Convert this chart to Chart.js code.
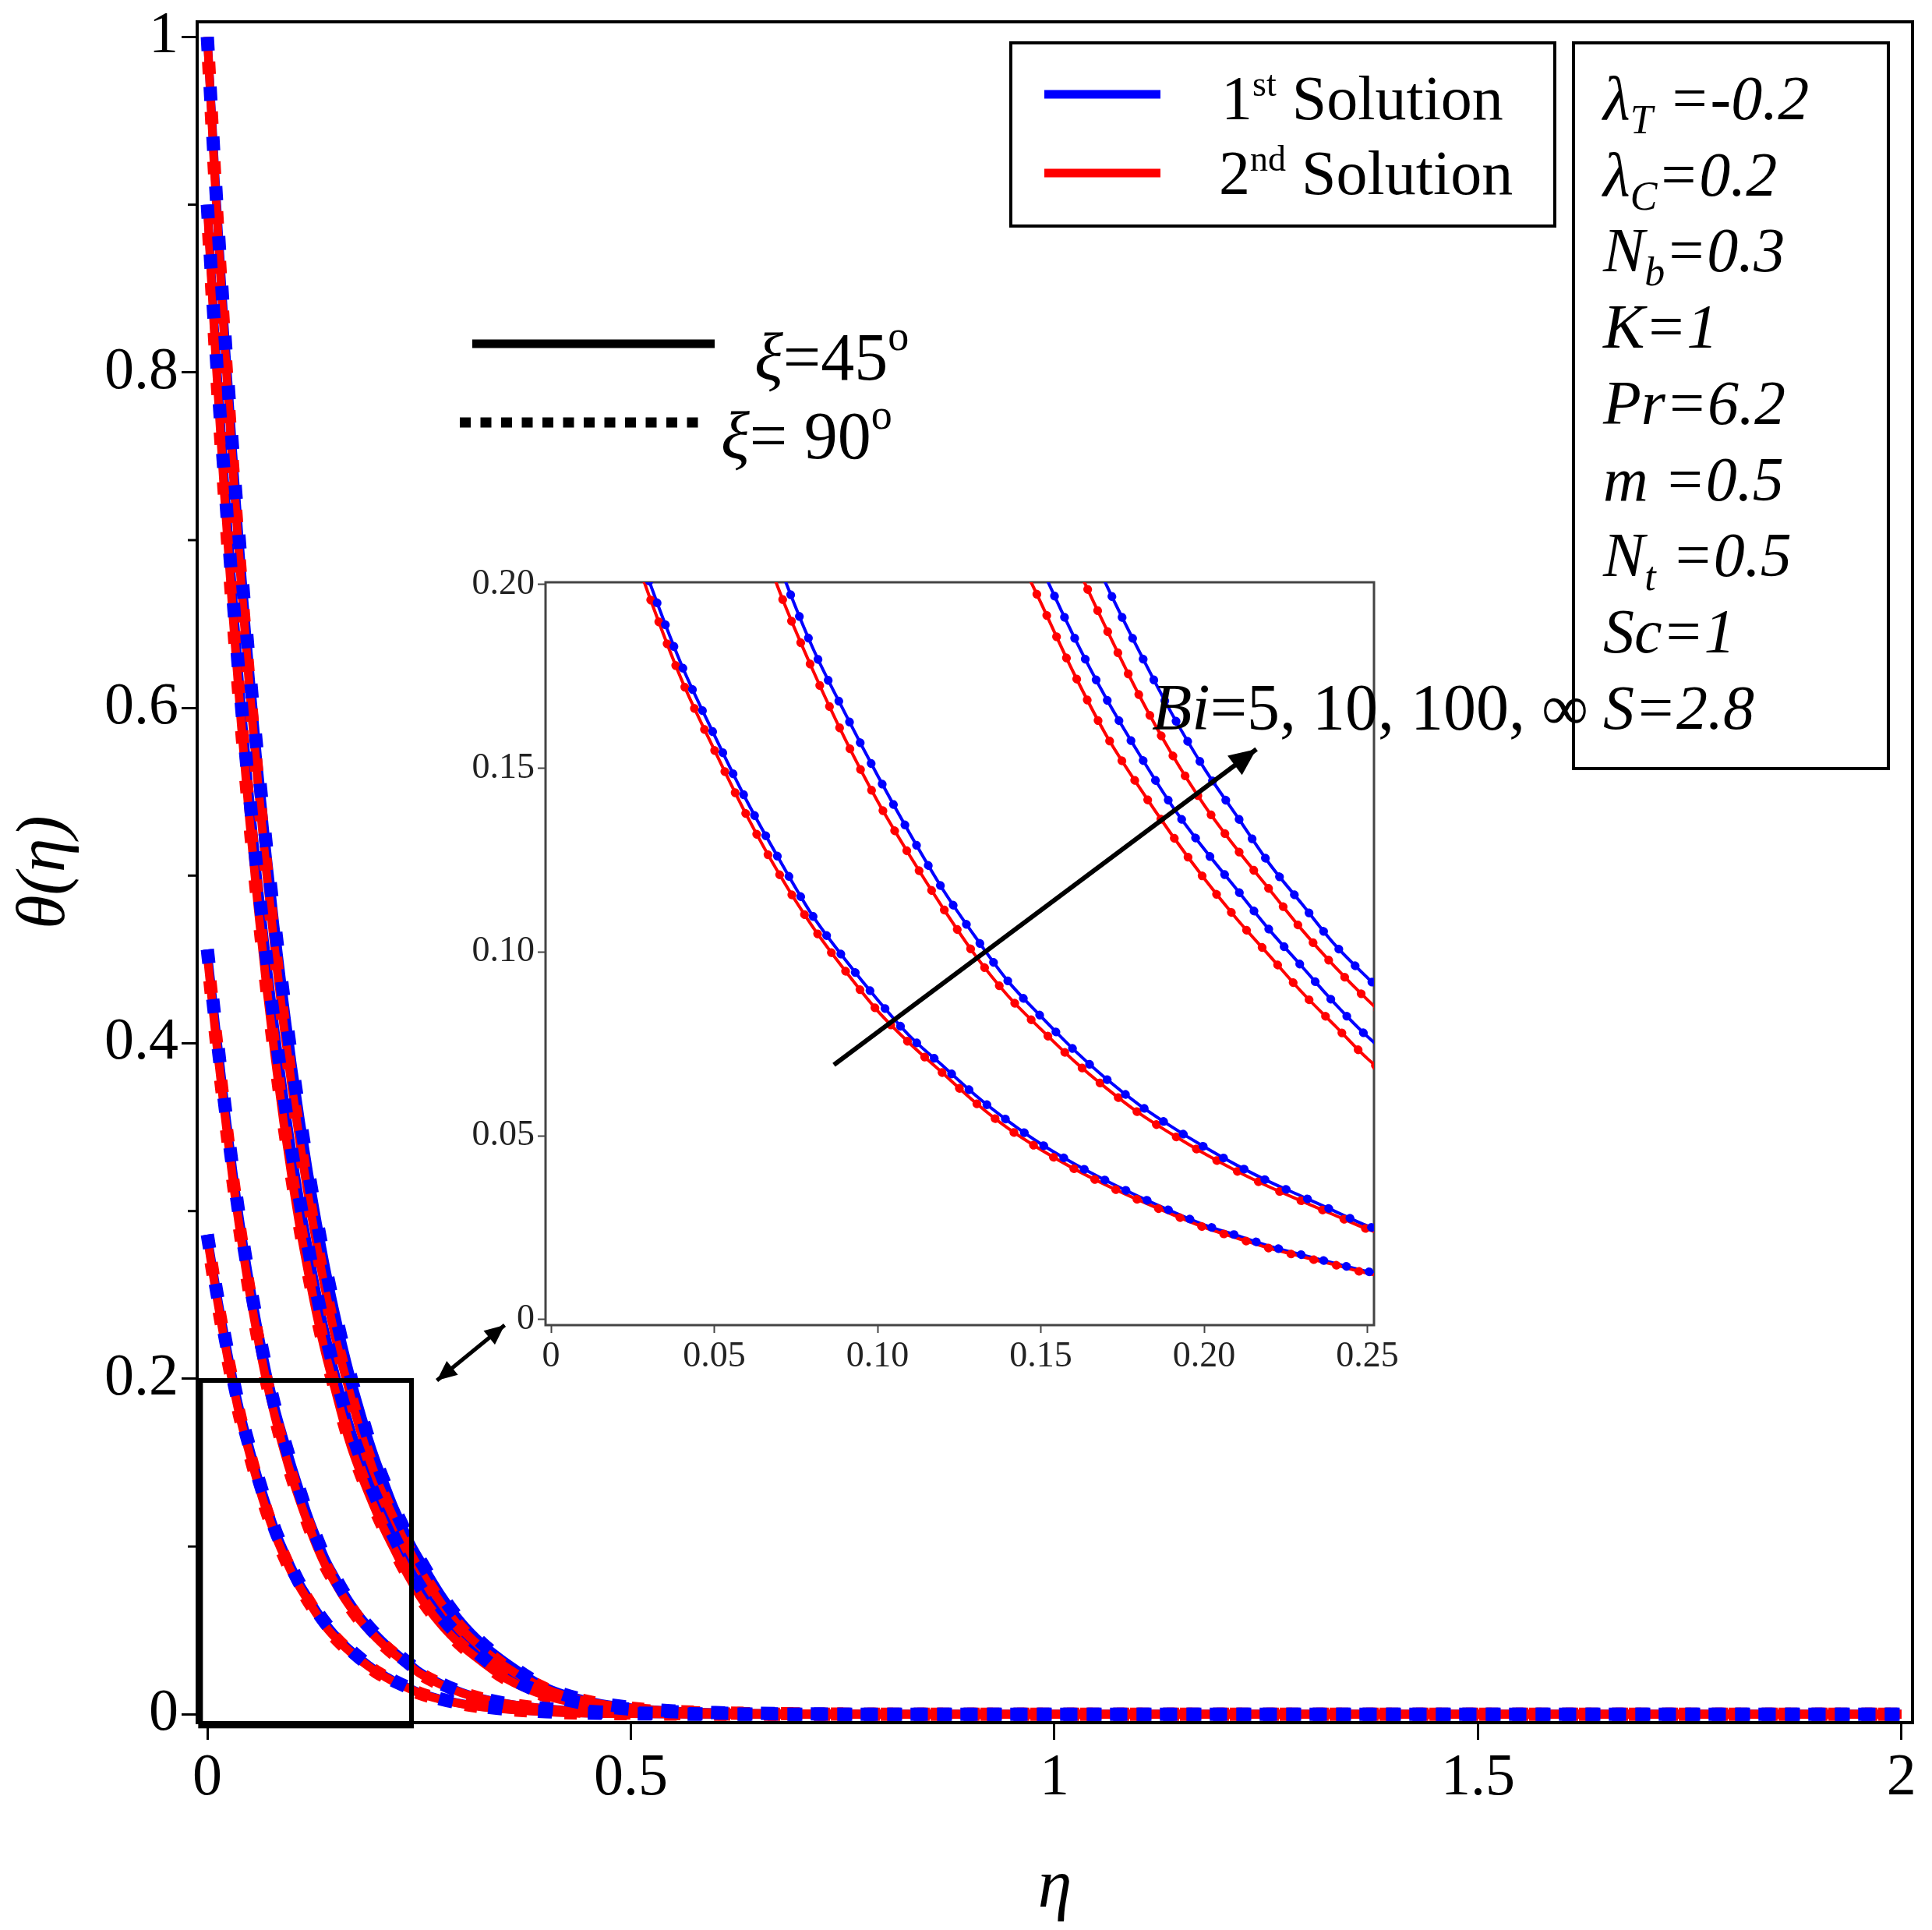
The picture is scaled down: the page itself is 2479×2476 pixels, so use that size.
<!DOCTYPE html>
<html>
<head>
<meta charset="utf-8">
<script src="https://cdn.jsdelivr.net/npm/chart.js@4.4.1/dist/chart.umd.min.js"></script>
<style>
  html, body { margin: 0; padding: 0; background: #fff; }
  #wrap { position: relative; width: 2479px; height: 2476px; }
  #wrap canvas { position: absolute; left: 0; top: 0; }
</style>
</head>
<body>
<div id="wrap">
  <canvas id="main" width="2479" height="2476"></canvas>
  <canvas id="inset" width="2479" height="2476"></canvas>
</div>
<script>
// ---- data ----
const eta = [0, 0.01, 0.02, 0.03, 0.04, 0.05, 0.06, 0.07, 0.08, 0.09, 0.10, 0.11, 0.12, 0.13, 0.14, 0.15,
  0.16, 0.17, 0.18, 0.19, 0.20, 0.21, 0.22, 0.23, 0.24, 0.25, 0.275, 0.30, 0.325, 0.35, 0.40, 0.45, 0.50,
  0.55, 0.60, 0.70, 0.80, 1.0, 1.2, 1.4, 1.6, 1.8, 2.0];

// Bi = 5
const bi5First = [0.286, 0.255, 0.227, 0.201, 0.178, 0.159, 0.141, 0.125, 0.110, 0.098, 0.087, 0.077, 0.069, 0.061, 0.054, 0.0478,
  0.0425, 0.0378, 0.0335, 0.0295, 0.0258, 0.0229, 0.0200, 0.0176, 0.0153, 0.0131, 0.0092, 0.0064, 0.0045, 0.0032, 0.0015, 0.0007, 0.0003,
  0.0001, 0, 0, 0, 0, 0, 0, 0, 0, 0];
const bi5Second = [0.284, 0.252, 0.223, 0.197, 0.174, 0.155, 0.137, 0.121, 0.107, 0.095, 0.084, 0.075, 0.067, 0.059, 0.052, 0.0462,
  0.0411, 0.0366, 0.0325, 0.0287, 0.0251, 0.0222, 0.0194, 0.0171, 0.0149, 0.0126, 0.0089, 0.0062, 0.0043, 0.0031, 0.0014, 0.0006, 0.0003,
  0.0001, 0, 0, 0, 0, 0, 0, 0, 0, 0];
// Bi = 10
const bi10First = [0.456, 0.410, 0.366, 0.325, 0.289, 0.258, 0.230, 0.205, 0.183, 0.165, 0.148, 0.132, 0.117, 0.104, 0.092, 0.0825,
  0.0735, 0.0655, 0.0585, 0.0525, 0.047, 0.0420, 0.0375, 0.0335, 0.0295, 0.0255, 0.0185, 0.0132, 0.0094, 0.0067, 0.0034, 0.0017, 0.0008,
  0.0004, 0.0002, 0, 0, 0, 0, 0, 0, 0, 0];
const bi10Second = [0.452, 0.404, 0.360, 0.319, 0.283, 0.251, 0.223, 0.198, 0.177, 0.158, 0.141, 0.126, 0.112, 0.099, 0.088, 0.0790,
  0.0705, 0.0630, 0.0562, 0.0505, 0.0452, 0.0404, 0.0361, 0.0322, 0.0284, 0.0246, 0.0179, 0.0128, 0.0091, 0.0065, 0.0033, 0.0016, 0.0008,
  0.0004, 0.0002, 0, 0, 0, 0, 0, 0, 0, 0];
// Bi = 100
const bi100First = [0.900, 0.814, 0.738, 0.668, 0.603, 0.547, 0.496, 0.450, 0.408, 0.370, 0.335, 0.304, 0.276, 0.249, 0.226, 0.205,
  0.186, 0.169, 0.154, 0.140, 0.128, 0.117, 0.106, 0.096, 0.086, 0.077, 0.059, 0.045, 0.034, 0.024, 0.012, 0.006, 0.003,
  0.0015, 0.0007, 0.0002, 0, 0, 0, 0, 0, 0, 0];
const bi100Second = [0.898, 0.808, 0.728, 0.656, 0.590, 0.532, 0.480, 0.433, 0.391, 0.353, 0.319, 0.288, 0.261, 0.236, 0.214, 0.195,
  0.176, 0.159, 0.145, 0.132, 0.120, 0.109, 0.099, 0.089, 0.080, 0.071, 0.054, 0.041, 0.031, 0.022, 0.011, 0.0055, 0.0027,
  0.0013, 0.0006, 0.0002, 0, 0, 0, 0, 0, 0, 0];
// Bi = infinity
const biInfFirst = [1.000, 0.910, 0.828, 0.753, 0.685, 0.623, 0.567, 0.516, 0.470, 0.428, 0.389, 0.354, 0.322, 0.293, 0.266, 0.242,
  0.220, 0.200, 0.182, 0.165, 0.150, 0.137, 0.124, 0.113, 0.102, 0.093, 0.072, 0.055, 0.042, 0.032, 0.016, 0.008, 0.004,
  0.002, 0.001, 0.0003, 0, 0, 0, 0, 0, 0, 0];
const biInfSecond = [1.000, 0.905, 0.820, 0.743, 0.673, 0.610, 0.553, 0.501, 0.454, 0.411, 0.373, 0.338, 0.306, 0.277, 0.251, 0.227,
  0.207, 0.188, 0.170, 0.154, 0.140, 0.128, 0.117, 0.106, 0.096, 0.087, 0.067, 0.051, 0.039, 0.029, 0.015, 0.0075, 0.0037,
  0.0018, 0.0009, 0.0003, 0, 0, 0, 0, 0, 0, 0];

// the xi = 90 deg curves sit on top of the xi = 45 deg ones in the figure, so they reuse the same values
const curves = [
  { first: biInfFirst, second: biInfSecond },
  { first: bi100First, second: bi100Second },
  { first: bi10First, second: bi10Second },
  { first: bi5First, second: bi5Second }
];

const mainXTicks = [0, 0.5, 1, 1.5, 2];
const mainXLabels = ['0', '0.5', '1', '1.5', '2'];
const mainYTicks = [0, 0.2, 0.4, 0.6, 0.8, 1];
const mainYLabels = ['0', '0.2', '0.4', '0.6', '0.8', '1'];
const mainYMinor = [0.1, 0.3, 0.5, 0.7, 0.9];
const insetXTicks = [0, 0.05, 0.10, 0.15, 0.20, 0.25];
const insetXLabels = ['0', '0.05', '0.10', '0.15', '0.20', '0.25'];
const insetYTicks = [0, 0.05, 0.10, 0.15, 0.20];
const insetYLabels = ['0', '0.05', '0.10', '0.15', '0.20'];

const paramLines = [
  [['λ', 'i'], ['T', 's'], [' =-0.2', 'i']],
  [['λ', 'i'], ['C', 's'], ['=0.2', 'i']],
  [['N', 'i'], ['b', 's'], ['=0.3', 'i']],
  [['K=1', 'i']],
  [['Pr=6.2', 'i']],
  [['m =0.5', 'i']],
  [['N', 'i'], ['t', 's'], [' =0.5', 'i']],
  [['Sc=1', 'i']],
  [['S=2.8', 'i']]
];

// ---- style ----
const BLUE = '#0000ff';
const RED = '#ff0000';
const serif = "'Liberation Serif', 'Times New Roman', serif";

const mainStyle = { blueW: 11, redW: 11, dotW: 17, cap: 'butt', blueDash: [18, 46], redDash: [16, 48], redOffset: 32 };
const insetStyle = { blueW: 4, redW: 4, dotW: 11, cap: 'round', blueDash: [0.5, 29.5], redDash: [0.5, 29.5], redOffset: 15 };

function buildSets(st) {
  const sets = [];
  curves.forEach(c => {
    const p1 = eta.map((x, i) => ({ x: x, y: c.first[i] }));
    const p2 = eta.map((x, i) => ({ x: x, y: c.second[i] }));
    const base = { pointRadius: 0, fill: false, cubicInterpolationMode: 'monotone' };
    sets.push({ ...base, data: p1, borderColor: BLUE, borderWidth: st.blueW, order: 4 });
    sets.push({ ...base, data: p2, borderColor: RED, borderWidth: st.redW, order: 3 });
    sets.push({ ...base, data: p2, borderColor: RED, borderWidth: st.dotW, borderDash: st.redDash,
      borderDashOffset: st.redOffset, borderCapStyle: st.cap, order: 2 });
    sets.push({ ...base, data: p1, borderColor: BLUE, borderWidth: st.dotW, borderDash: st.blueDash,
      borderCapStyle: st.cap, order: 1 });
  });
  return sets;
}

// ---- main chart ----
const mainFrame = {
  id: 'mainFrame',
  beforeDraw(chart) {
    const ctx = chart.ctx;
    ctx.save();
    ctx.fillStyle = '#fff';
    ctx.fillRect(0, 0, chart.width, chart.height);
    ctx.restore();
  },
  beforeDatasetsDraw(chart) {
    const { ctx, chartArea: a } = chart;
    const ys = chart.scales.y;
    ctx.save();
    ctx.strokeStyle = '#000';
    ctx.lineWidth = 4;
    ctx.strokeRect(a.left, a.top, a.right - a.left, a.bottom - a.top);
    ctx.lineWidth = 3;
    mainYMinor.forEach(v => {
      const y = ys.getPixelForValue(v);
      ctx.beginPath();
      ctx.moveTo(a.left - 12, y);
      ctx.lineTo(a.left, y);
      ctx.stroke();
    });
    ctx.restore();
  }
};

const mainChart = new Chart(document.getElementById('main'), {
  type: 'line',
  data: { datasets: buildSets(mainStyle) },
  options: {
    responsive: false, devicePixelRatio: 1, animation: false,
    layout: { padding: { left: 0, top: 28, right: 25, bottom: 0 } },
    plugins: { legend: { display: false }, tooltip: { enabled: false } },
    scales: {
      x: {
        type: 'linear', min: -0.012, max: 2.013,
        afterBuildTicks: s => { s.ticks = mainXTicks.map(v => ({ value: v })); },
        afterFit: s => { s.height = 266; s.paddingLeft = 0; s.paddingRight = 0; },
        ticks: { callback: v => mainXLabels[mainXTicks.indexOf(v)], autoSkip: false, maxRotation: 0,
          font: { family: serif, size: 76, lineHeight: 1 }, color: '#000', padding: 12 },
        grid: { drawOnChartArea: false, tickLength: 22, tickWidth: 3, tickColor: '#000' },
        border: { display: false },
        title: { display: true, text: 'η', color: '#000', padding: { top: 0, bottom: 0 },
          font: { family: serif, size: 88, style: 'italic', lineHeight: 1.2 } }
      },
      y: {
        type: 'linear', min: -0.005, max: 1.009,
        afterBuildTicks: s => { s.ticks = mainYTicks.map(v => ({ value: v })); },
        afterFit: s => { s.width = 253; s.paddingTop = 0; s.paddingBottom = 0; },
        ticks: { callback: v => mainYLabels[mainYTicks.indexOf(v)], autoSkip: false,
          font: { family: serif, size: 76, lineHeight: 1 }, color: '#000', padding: 4 },
        grid: { drawOnChartArea: false, tickLength: 20, tickWidth: 3, tickColor: '#000' },
        border: { display: false },
        title: { display: true, text: 'θ(η)', color: '#000', padding: { top: 6, bottom: 0 },
          font: { family: serif, size: 88, style: 'italic', lineHeight: 1.2 } }
      }
    }
  },
  plugins: [mainFrame]
});

// ---- annotation helpers ----
function arrow(ctx, x0, y0, x1, y1, head, both) {
  const ang = Math.atan2(y1 - y0, x1 - x0);
  ctx.beginPath();
  ctx.moveTo(x0, y0);
  ctx.lineTo(x1, y1);
  ctx.stroke();
  const tip = (x, y, a) => {
    ctx.beginPath();
    ctx.moveTo(x, y);
    ctx.lineTo(x - head * Math.cos(a - 0.42), y - head * Math.sin(a - 0.42));
    ctx.lineTo(x - head * Math.cos(a + 0.42), y - head * Math.sin(a + 0.42));
    ctx.closePath();
    ctx.fill();
  };
  tip(x1, y1, ang);
  if (both) tip(x0, y0, ang + Math.PI);
}

function runs(ctx, x, y, parts) {
  parts.forEach(p => {
    ctx.font = p.font;
    ctx.fillText(p.t, x, y + (p.dy || 0));
    x += ctx.measureText(p.t).width + (p.gap || 0);
  });
  return x;
}

// ---- inset chart (full-page overlay canvas, so it also carries the annotations) ----
const insetDeco = {
  id: 'insetDeco',
  beforeDraw(chart) {
    const { ctx, chartArea: a } = chart;
    ctx.save();
    ctx.fillStyle = '#fff';
    ctx.fillRect(a.left, a.top, a.right - a.left, a.bottom - a.top);
    ctx.restore();
  },
  beforeDatasetsDraw(chart) {
    const { ctx, chartArea: a } = chart;
    ctx.save();
    ctx.strokeStyle = '#444';
    ctx.lineWidth = 3;
    ctx.strokeRect(a.left, a.top, a.right - a.left, a.bottom - a.top);
    ctx.restore();
  },
  afterDraw(chart) {
    const ctx = chart.ctx;
    const mx = mainChart.scales.x, my = mainChart.scales.y;
    const ix = chart.scales.x, iy = chart.scales.y;
    ctx.save();
    ctx.fillStyle = '#000';
    ctx.strokeStyle = '#000';

    // zoom window on the main plot
    ctx.lineWidth = 6;
    const rx0 = mx.getPixelForValue(-0.008), rx1 = mx.getPixelForValue(0.241);
    const ry0 = my.getPixelForValue(0.199), ry1 = my.getPixelForValue(-0.007);
    ctx.strokeRect(rx0, ry0, rx1 - rx0, ry1 - ry0);

    // double arrow between window and inset
    ctx.lineWidth = 5;
    arrow(ctx, mx.getPixelForValue(0.271), my.getPixelForValue(0.199),
      mx.getPixelForValue(0.351), my.getPixelForValue(0.232), 28, true);

    // Bi arrow inside the inset
    ctx.lineWidth = 6;
    arrow(ctx, ix.getPixelForValue(0.0866), iy.getPixelForValue(0.0693),
      ix.getPixelForValue(0.2160), iy.getPixelForValue(0.1552), 38, false);

    ctx.textBaseline = 'alphabetic';
    ctx.textAlign = 'left';
    runs(ctx, 1478, 936, [
      { t: 'Bi', font: 'italic 84px ' + serif },
      { t: '=5, 10, 100, ∞', font: '84px ' + serif }
    ]);

    // xi legend
    ctx.lineWidth = 11;
    ctx.beginPath(); ctx.moveTo(606, 441); ctx.lineTo(917, 441); ctx.stroke();
    ctx.lineWidth = 13;
    ctx.setLineDash([14, 12.5]);
    ctx.beginPath(); ctx.moveTo(590, 542); ctx.lineTo(898, 542); ctx.stroke();
    ctx.setLineDash([]);
    runs(ctx, 968, 487, [
      { t: 'ξ', font: 'italic 86px ' + serif },
      { t: '=45', font: '86px ' + serif },
      { t: 'o', font: '54px ' + serif, dy: -38 }
    ]);
    runs(ctx, 925, 588, [
      { t: 'ξ', font: 'italic 86px ' + serif },
      { t: '= 90', font: '86px ' + serif },
      { t: 'o', font: '54px ' + serif, dy: -38 }
    ]);

    // solution legend
    ctx.lineWidth = 4;
    ctx.strokeRect(1297, 55, 698, 235);
    ctx.lineWidth = 11;
    ctx.strokeStyle = BLUE;
    ctx.beginPath(); ctx.moveTo(1340, 121); ctx.lineTo(1489, 121); ctx.stroke();
    ctx.strokeStyle = RED;
    ctx.beginPath(); ctx.moveTo(1340, 222); ctx.lineTo(1489, 222); ctx.stroke();
    ctx.strokeStyle = '#000';
    runs(ctx, 1567, 153, [
      { t: '1', font: '80px ' + serif },
      { t: 'st', font: '46px ' + serif, dy: -30, gap: 20 },
      { t: 'Solution', font: '80px ' + serif }
    ]);
    runs(ctx, 1564, 249, [
      { t: '2', font: '80px ' + serif },
      { t: 'nd', font: '46px ' + serif, dy: -30, gap: 20 },
      { t: 'Solution', font: '80px ' + serif }
    ]);

    // parameter box
    ctx.lineWidth = 4;
    ctx.strokeRect(2019, 55, 404, 931);
    paramLines.forEach((line, k) => {
      runs(ctx, 2057, 153 + k * 97.7, line.map(([t, kind]) => kind === 's'
        ? { t: t, font: 'italic 52px ' + serif, dy: 18 }
        : { t: t, font: 'italic 80px ' + serif }));
    });
    ctx.restore();
  }
};

new Chart(document.getElementById('inset'), {
  type: 'line',
  data: { datasets: buildSets(insetStyle) },
  options: {
    responsive: false, devicePixelRatio: 1, animation: false,
    layout: { padding: { left: 600, top: 747, right: 716, bottom: 696 } },
    plugins: { legend: { display: false }, tooltip: { enabled: false } },
    scales: {
      x: {
        type: 'linear', min: -0.0017, max: 0.252,
        afterBuildTicks: s => { s.ticks = insetXTicks.map(v => ({ value: v })); },
        afterFit: s => { s.height = 80; s.paddingLeft = 0; s.paddingRight = 0; },
        ticks: { callback: v => insetXLabels[insetXTicks.indexOf(v)], autoSkip: false, maxRotation: 0,
          font: { family: serif, size: 46, lineHeight: 1 }, color: '#222', padding: 8 },
        grid: { drawOnChartArea: false, tickLength: 10, tickWidth: 2, tickColor: '#444' },
        border: { display: false }
      },
      y: {
        type: 'linear', min: -0.0015, max: 0.2006,
        afterBuildTicks: s => { s.ticks = insetYTicks.map(v => ({ value: v })); },
        afterFit: s => { s.width = 100; s.paddingTop = 0; s.paddingBottom = 0; },
        ticks: { callback: v => insetYLabels[insetYTicks.indexOf(v)], autoSkip: false,
          font: { family: serif, size: 46, lineHeight: 1 }, color: '#222', padding: 4 },
        grid: { drawOnChartArea: false, tickLength: 10, tickWidth: 2, tickColor: '#444' },
        border: { display: false }
      }
    }
  },
  plugins: [insetDeco]
});
</script>
</body>
</html>
